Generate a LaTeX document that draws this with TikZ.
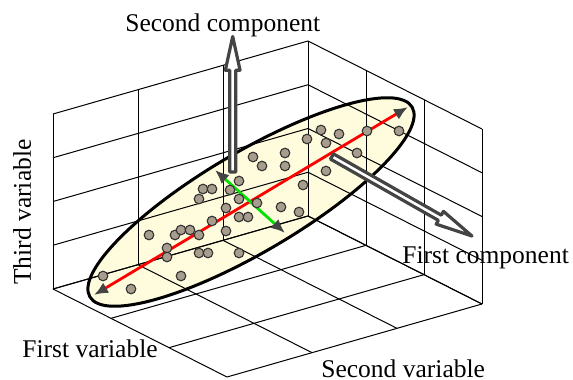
\documentclass[tikz,border=0pt]{standalone}
\usepackage{fontspec}
\setmainfont{Liberation Serif}
\usetikzlibrary{arrows.meta, calc}
\definecolor{cloudfill}{RGB}{255,252,221}
\definecolor{dotfill}{RGB}{168,156,140}
\definecolor{arrowgray}{RGB}{68,68,68}
\definecolor{pcgreen}{RGB}{0,225,0}

\begin{document}
\begin{tikzpicture}
        [x=0.5pt, y=-0.5pt,
         grid line/.style={line width=0.5pt, black},
         pc axis/.style={line width=1.4pt, {Latex[length=7pt,width=6pt,color=arrowgray]}-{Latex[length=7pt,width=6pt,color=arrowgray]}},
         sample/.style={fill=dotfill, draw=black!80, line width=0.55pt},
         hollow arrow/.style={draw=arrowgray, fill=white, line width=1.6pt, line join=round},
         lbl/.style={inner sep=0pt, font=\fontsize{12.75}{15}\selectfont}]
        \useasboundingbox (0,0) rectangle (573,380);
            %riempimento ellisse
            \fill[cloudfill, rotate around={30.5:(251,202)}] (251,202) ellipse [x radius=93.5pt, y radius=25pt];
            %griglia pareti e pavimento
            \begin{scope}[shift={(308,216)}, x={(-42.5pt,-12.167pt)}, y={(29pt,-14.667pt)}, z={(0pt,21.875pt)}]
                \foreach \k in {0,...,4} {
                    \draw[grid line] (0,0,\k) -- (3,0,\k);
                    \draw[grid line] (0,0,\k) -- (0,3,\k);
                }
                \foreach \i in {0,...,3} {
                    \draw[grid line] (\i,0,0) -- (\i,0,4);
                    \draw[grid line] (\i,0,0) -- (\i,3,0);
                    \draw[grid line] (0,\i,0) -- (0,\i,4);
                    \draw[grid line] (0,\i,0) -- (3,\i,0);
                }
            \end{scope}
            %bordo ellisse
            \draw[line width=1.5pt, rotate around={30.5:(251,202)}] (251,202) ellipse [x radius=93.5pt, y radius=25pt];
            %assi principali
            \coordinate (pc1 start) at (94,295);
            \coordinate (pc1 end) at (408,107);
            \coordinate (pc2 start) at (215,170);
            \coordinate (pc2 end) at (285,233);
            \draw[pc axis, red] (pc1 start) -- (pc1 end);
            \draw[pc axis, pcgreen] (pc2 start) -- (pc2 end);
            %punti
            \foreach \px/\py in {103/276, 131/289, 149/235, 167/248, 167/257, 175/235, 181/230, 190/230,
                181/276, 199/235, 199/199, 199/253, 208/253, 203/189, 212/189, 212/221, 226/208, 226/231,
                230/190, 239/181, 239/199, 239/217, 248/217, 239/253, 253/157, 262/166, 257/203, 281/207,
                285/153, 285/166, 299/212, 303/185, 307/139, 321/130, 326/143, 339/134, 326/171, 357/153,
                367/131, 399/131}
                \draw[sample] (\px,\py) circle [radius=2.4pt];
            %freccia seconda componente
            \begin{scope}[shift={(232.7,172)}, rotate=90, x=0.5pt, y=0.5pt]
                \draw[hollow arrow] (0,-3) -- (101.8,-3) -- (101.8,-7.35) -- (135.5,0) -- (101.8,7.35) -- (101.8,3) -- (0,3) -- cycle;
            \end{scope}
            %freccia prima componente
            \begin{scope}[shift={(332,156.5)}, rotate=-29.6, x=0.5pt, y=0.5pt]
                \draw[hollow arrow] (0,-3) -- (124,-3) -- (124,-7.35) -- (161,0) -- (124,7.35) -- (124,3) -- (0,3) -- cycle;
            \end{scope}
            %etichette
            \node[lbl, anchor=base west] (pc2 label) at (125,32) {Second component};
            \node[lbl, anchor=base west] (pc1 label) at (402,263) {First component};
            \node[lbl, anchor=base west] (var1 label) at (22,357) {First variable};
            \node[lbl, anchor=base west] (var2 label) at (321,377) {Second variable};
            \node[lbl, anchor=base west, rotate=90] (var3 label) at (31,285) {Third variable};
    \end{tikzpicture}
\end{document}
